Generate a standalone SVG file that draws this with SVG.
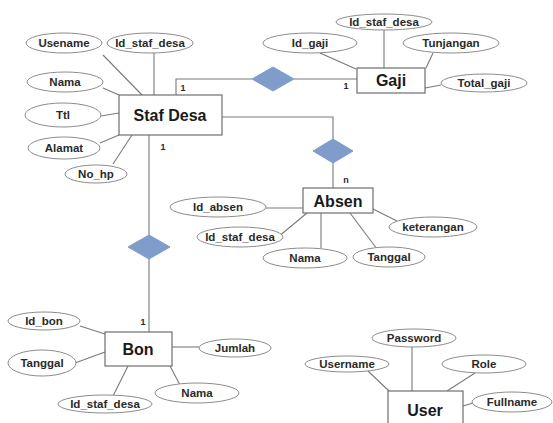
<svg xmlns="http://www.w3.org/2000/svg" width="553" height="423" viewBox="0 0 553 423">
<style>
.ent{fill:#fff;stroke:#6e6e6e;stroke-width:1.2}
.att{fill:#fff;stroke:#8c8c8c;stroke-width:1}
.rel{fill:#7f9ccb;stroke:#7f9ccb;stroke-width:1}
.ln{stroke:#7a7a7a;stroke-width:1.1;fill:none}
.et{font-family:"Liberation Sans",Arial,sans-serif;font-weight:bold;font-size:16px;fill:#1a1a1a;text-anchor:middle;dominant-baseline:central}
.at{font-family:"Liberation Sans",Arial,sans-serif;font-weight:bold;font-size:11.5px;fill:#2a2a2a;text-anchor:middle;dominant-baseline:central}
.cd{font-family:"Liberation Sans",Arial,sans-serif;font-weight:bold;font-size:9px;fill:#2a2a2a;text-anchor:middle;dominant-baseline:central}
</style>
<rect width="553" height="423" fill="#fff"/>
<g id="connectors">
  <!-- Staf Desa attributes -->
  <line class="ln" x1="103" y1="55" x2="142" y2="95"/>
  <line class="ln" x1="154" y1="53" x2="154" y2="95"/>
  <line class="ln" x1="103" y1="88" x2="119" y2="95"/>
  <line class="ln" x1="101" y1="116" x2="119" y2="113"/>
  <line class="ln" x1="100" y1="143" x2="119" y2="135"/>
  <line class="ln" x1="113" y1="164" x2="132" y2="135"/>
  <!-- Staf Desa - Gaji -->
  <polyline class="ln" points="176,95 176,79 252,79"/>
  <line class="ln" x1="294" y1="79" x2="357" y2="79"/>
  <!-- Staf Desa - Absen -->
  <polyline class="ln" points="222,117 333,117 333,139"/>
  <line class="ln" x1="333" y1="163" x2="333" y2="188"/>
  <!-- Staf Desa - Bon -->
  <line class="ln" x1="149" y1="135" x2="149" y2="235"/>
  <line class="ln" x1="149" y1="259" x2="149" y2="332"/>
  <!-- Gaji attributes -->
  <line class="ln" x1="384" y1="30" x2="384" y2="68"/>
  <line class="ln" x1="320" y1="53" x2="356" y2="69"/>
  <line class="ln" x1="433" y1="53" x2="426" y2="68"/>
  <line class="ln" x1="425" y1="88" x2="441" y2="85"/>
  <!-- Absen attributes -->
  <line class="ln" x1="266" y1="208" x2="303" y2="208"/>
  <line class="ln" x1="278" y1="237" x2="307" y2="213"/>
  <line class="ln" x1="321" y1="213" x2="321" y2="248"/>
  <line class="ln" x1="350" y1="213" x2="377" y2="249"/>
  <line class="ln" x1="373" y1="209" x2="397" y2="221"/>
  <!-- Bon attributes -->
  <line class="ln" x1="80" y1="326" x2="105" y2="334"/>
  <line class="ln" x1="75" y1="363" x2="105" y2="352"/>
  <line class="ln" x1="113" y1="396" x2="128" y2="366"/>
  <line class="ln" x1="180" y1="385" x2="170" y2="366"/>
  <line class="ln" x1="172" y1="347" x2="199" y2="347"/>
  <!-- User attributes -->
  <line class="ln" x1="412" y1="347" x2="412" y2="391"/>
  <line class="ln" x1="368" y1="371" x2="389" y2="391"/>
  <line class="ln" x1="475" y1="373" x2="447" y2="391"/>
  <line class="ln" x1="463" y1="406" x2="473" y2="403"/>
  <!-- cardinalities -->
  <text class="cd" x="183" y="88">1</text>
  <text class="cd" x="346" y="86">1</text>
  <text class="cd" x="346" y="180">n</text>
  <text class="cd" x="163" y="147">1</text>
  <text class="cd" x="143" y="322">1</text>
</g>
<g id="rel-gaji"><polygon class="rel" points="252,79 273,67 294,79 273,91"/></g>
<g id="rel-absen"><polygon class="rel" points="313,151 333,139 353,151 333,163"/></g>
<g id="rel-bon"><polygon class="rel" points="128,247 149,235 170,247 149,259"/></g>

<g id="staf-desa">
  <rect class="ent" x="119" y="95" width="103" height="40"/>
  <text class="et" x="170" y="115">Staf Desa</text>
</g>
<g id="staf-usename"><ellipse class="att" cx="64" cy="43" rx="38" ry="10"/><text class="at" x="64" y="43">Usename</text></g>
<g id="staf-id"><ellipse class="att" cx="150" cy="43" rx="43" ry="10"/><text class="at" x="150" y="43">Id_staf_desa</text></g>
<g id="staf-nama"><ellipse class="att" cx="65" cy="82" rx="38" ry="10"/><text class="at" x="65" y="82">Nama</text></g>
<g id="staf-ttl"><ellipse class="att" cx="63" cy="115" rx="38" ry="12"/><text class="at" x="63" y="115">Ttl</text></g>
<g id="staf-alamat"><ellipse class="att" cx="64" cy="148" rx="36" ry="11"/><text class="at" x="64" y="148">Alamat</text></g>
<g id="staf-nohp"><ellipse class="att" cx="96" cy="174" rx="31" ry="9"/><text class="at" x="96" y="174">No_hp</text></g>

<g id="gaji">
  <rect class="ent" x="357" y="68" width="68" height="25"/>
  <text class="et" x="391" y="80">Gaji</text>
</g>
<g id="gaji-idstaf"><ellipse class="att" cx="384" cy="22" rx="48" ry="8"/><text class="at" x="384" y="22">Id_staf_desa</text></g>
<g id="gaji-id"><ellipse class="att" cx="310" cy="43" rx="47" ry="10"/><text class="at" x="310" y="43">Id_gaji</text></g>
<g id="gaji-tunjangan"><ellipse class="att" cx="451" cy="43" rx="48" ry="10"/><text class="at" x="451" y="43">Tunjangan</text></g>
<g id="gaji-total"><ellipse class="att" cx="484" cy="83" rx="43" ry="9"/><text class="at" x="484" y="83">Total_gaji</text></g>

<g id="absen">
  <rect class="ent" x="303" y="188" width="70" height="25"/>
  <text class="et" x="338" y="201">Absen</text>
</g>
<g id="absen-id"><ellipse class="att" cx="218" cy="207" rx="48" ry="10"/><text class="at" x="218" y="207">Id_absen</text></g>
<g id="absen-idstaf"><ellipse class="att" cx="240" cy="237" rx="43" ry="10"/><text class="at" x="240" y="237">Id_staf_desa</text></g>
<g id="absen-nama"><ellipse class="att" cx="305" cy="258" rx="42" ry="10"/><text class="at" x="305" y="258">Nama</text></g>
<g id="absen-tanggal"><ellipse class="att" cx="389" cy="257" rx="36" ry="10"/><text class="at" x="389" y="257">Tanggal</text></g>
<g id="absen-ket"><ellipse class="att" cx="433" cy="227" rx="44" ry="10"/><text class="at" x="433" y="227">keterangan</text></g>

<g id="bon">
  <rect class="ent" x="105" y="332" width="67" height="34"/>
  <text class="et" x="138" y="349">Bon</text>
</g>
<g id="bon-id"><ellipse class="att" cx="44" cy="321" rx="36" ry="9"/><text class="at" x="44" y="321">Id_bon</text></g>
<g id="bon-tanggal"><ellipse class="att" cx="42" cy="363" rx="34" ry="13"/><text class="at" x="42" y="363">Tanggal</text></g>
<g id="bon-idstaf"><ellipse class="att" cx="105" cy="404" rx="47" ry="9"/><text class="at" x="105" y="404">Id_staf_desa</text></g>
<g id="bon-nama"><ellipse class="att" cx="197" cy="393" rx="42" ry="10"/><text class="at" x="197" y="393">Nama</text></g>
<g id="bon-jumlah"><ellipse class="att" cx="235" cy="348" rx="36" ry="9"/><text class="at" x="235" y="348">Jumlah</text></g>

<g id="user">
  <rect class="ent" x="388" y="391" width="75" height="45"/>
  <text class="et" x="425" y="410">User</text>
</g>
<g id="user-password"><ellipse class="att" cx="414" cy="338" rx="42" ry="9"/><text class="at" x="414" y="338">Password</text></g>
<g id="user-username"><ellipse class="att" cx="347" cy="364" rx="42" ry="8"/><text class="at" x="347" y="364">Username</text></g>
<g id="user-role"><ellipse class="att" cx="484" cy="364" rx="42" ry="9"/><text class="at" x="484" y="364">Role</text></g>
<g id="user-fullname"><ellipse class="att" cx="512" cy="402" rx="40" ry="10"/><text class="at" x="512" y="402">Fullname</text></g>
</svg>
